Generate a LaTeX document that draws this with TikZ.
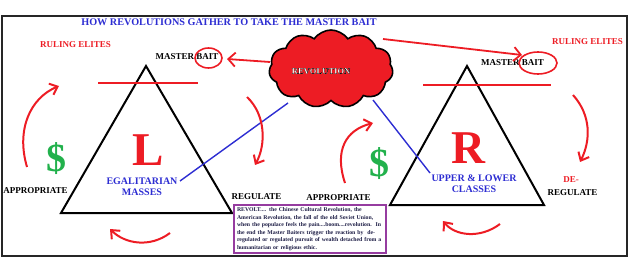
\documentclass[tikz,border=0pt]{standalone}
\usepackage{fontspec}
\setmainfont{Liberation Serif}
\usetikzlibrary{shapes.symbols,shapes.geometric,arrows.meta}
\definecolor{pred}{RGB}{237,28,36}
\definecolor{pblue}{RGB}{45,45,210}
\definecolor{pgreen}{RGB}{34,177,76}
\definecolor{ppurple}{RGB}{150,60,160}
\definecolor{navy}{RGB}{30,30,70}
\begin{document}
\begin{tikzpicture}[x=1pt,y=-1pt,
  lbl/.style={font=\fontsize{9}{10}\selectfont\bfseries, inner sep=0pt},
  redlbl/.style={lbl, text=pred},
  bluelbl/.style={font=\fontsize{10}{11}\selectfont\bfseries, text=pblue, align=center, inner sep=0pt},
  bigletter/.style={font=\fontsize{47}{47}\selectfont\bfseries, text=pred, inner sep=0pt},
  dollar/.style={font=\fontsize{40}{40}\selectfont\bfseries, text=pgreen, inner sep=0pt},
  curvy/.style={draw=pred, line width=2pt, -{Straight Barb[length=7pt,width=12pt]}},
  straightarrow/.style={draw=pred, line width=1.8pt, -{Straight Barb[length=7pt,width=14pt]}},
  baitring/.style={ellipse, draw=pred, line width=1.6pt, inner sep=0pt},
  tri/.style={draw=black, line width=2pt},
  bar/.style={draw=pred, line width=2pt},
  blueline/.style={draw=pblue, line width=1.4pt}]
\useasboundingbox (0,0) rectangle (640,259);
% frame
\draw[line width=2.2pt, black!85] (2,16) rectangle (627,256);
% title
\node[font=\fontsize{10.2}{11}\selectfont\bfseries, text=pblue, inner sep=0pt] (title) at (229,22) {HOW REVOLUTIONS GATHER TO TAKE THE MASTER BAIT};
% ruling elites
\node[redlbl] (reL) at (75.5,45) {RULING ELITES};
\node[redlbl] (reR) at (587.5,42) {RULING ELITES};
% master bait labels
\node[lbl] (mbL) at (187,57) {MASTER BAIT};
\node[lbl] (mbR) at (512.5,63) {MASTER BAIT};
\node[baitring, minimum width=27pt, minimum height=20pt] (ringL) at (208.5,58) {};
\node[baitring, minimum width=38pt, minimum height=22pt] (ringR) at (538,63) {};
% triangles
\draw[tri] (146,66) -- (232,213) -- (61,213) -- cycle;
\draw[tri] (467,66) -- (544,205) -- (390,205) -- cycle;
% red bars
\draw[bar] (98,83) -- (198,83);
\draw[bar] (423,85) -- (551,85);
% cloud
\node[cloud, cloud puffs=11, cloud puff arc=110, aspect=1.6, fill=pred, draw=black, line width=1.6pt, minimum width=124pt, minimum height=78pt, inner sep=0pt] (cloud) at (331,69) {};
\node[font=\fontsize{8.6}{9}\selectfont\bfseries, text=white, inner sep=0pt] (rev) at (321,71) {\special{pdf:literal direct 2 Tr 0.12 w 0 0 0 RG}REVOLUTION\special{pdf:literal direct 0 Tr}};
% straight arrows
\coordinate (cL) at (270,62);
\coordinate (tL) at (227,59);
\coordinate (cR) at (383,39);
\coordinate (tR) at (522,55);
\draw[straightarrow] (cL) -- (tL);
\draw[straightarrow] (cR) -- (tR);
% big letters
\node[bigletter] (Lt) at (148,150) {L};
\node[bigletter] (Rt) at (468,148) {R};
\node[dollar] (dL) at (56,159) {\$};
\node[dollar] (dR) at (379,164) {\$};
% blue labels
\node[bluelbl] (egal) at (142,187) {EGALITARIAN\\MASSES};
\node[bluelbl] (upper) at (474,184) {UPPER \& LOWER\\CLASSES};
% blue lines
\coordinate (bl1) at (288,103);
\coordinate (bl2) at (180,181);
\coordinate (br1) at (373,100);
\coordinate (br2) at (430,173);
\draw[blueline] (bl1) -- (bl2);
\draw[blueline] (br1) -- (br2);
% side labels
\node[lbl] (apL) at (35.5,191) {APPROPRIATE};
\node[lbl] (rgL) at (256.5,197) {REGULATE};
\node[lbl] (apM) at (338.5,198) {APPROPRIATE};
\node[redlbl] (de) at (571,180) {DE-};
\node[lbl] (rgR) at (572.5,193) {REGULATE};
% curved arrows
\coordinate (a1s) at (27,167); \coordinate (a1e) at (59,86);
\draw[curvy] (a1s) .. controls (16,130) and (30,98) .. (a1e);
\coordinate (a2s) at (247,97); \coordinate (a2e) at (255,165);
\draw[curvy] (a2s) .. controls (266,115) and (266,145) .. (a2e);
\coordinate (a3s) at (170,233); \coordinate (a3e) at (110,229);
\draw[curvy] (a3s) .. controls (150,248) and (125,244) .. (a3e);
\coordinate (a4s) at (345,183); \coordinate (a4e) at (373,123);
\draw[curvy] (a4s) .. controls (334,150) and (346,130) .. (a4e);
\coordinate (a5s) at (573,95); \coordinate (a5e) at (580,162);
\draw[curvy] (a5s) .. controls (591,115) and (591,140) .. (a5e);
\coordinate (a6s) at (500,224); \coordinate (a6e) at (443,221);
\draw[curvy] (a6s) .. controls (480,239) and (455,236) .. (a6e);
% text box
\node[draw=ppurple, line width=2pt, anchor=north west, text width=146pt, inner xsep=3pt, inner ysep=2.5pt, align=left, text=navy, font=\fontsize{5.8}{7.6}\selectfont\bfseries] (box) at (233,204) {REVOLT.... the Chinese Cultural Revolution, the\\American Revolution, the fall of the old Soviet Union,\\when the populace feels the pain....boom....revolution.\ \ In\\the end the Master Baiters trigger the reaction by\ \ de-\\regulated or regulated pursuit of wealth detached from a\\humanitarian or religious ethic.};
\end{tikzpicture}
\end{document}
